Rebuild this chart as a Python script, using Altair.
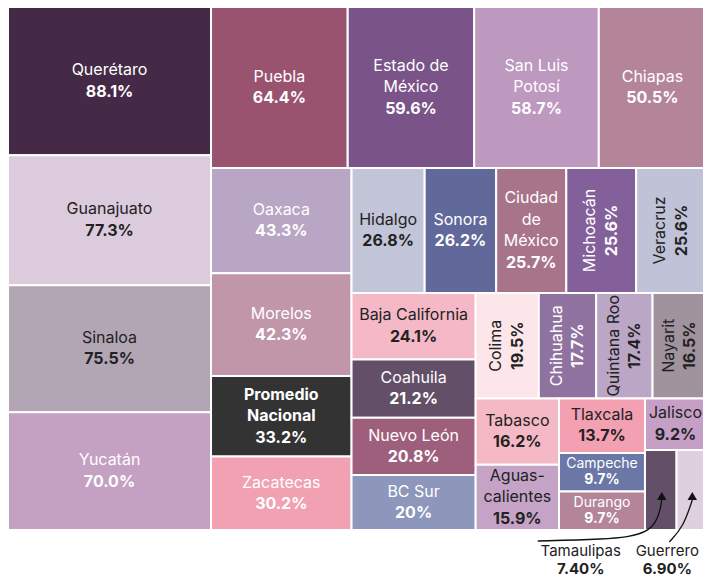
import altair as alt
import pandas as pd

# ---------------- data ----------------
states = ["Querétaro", "Guanajuato", "Sinaloa", "Yucatán", "Puebla", "Estado de México",
          "San Luis Potosí", "Chiapas", "Oaxaca", "Morelos", "Promedio Nacional", "Zacatecas",
          "Hidalgo", "Sonora", "Ciudad de México", "Michoacán", "Veracruz", "Baja California",
          "Coahuila", "Nuevo León", "BC Sur", "Colima", "Chihuahua", "Quintana Roo", "Nayarit",
          "Tabasco", "Aguascalientes", "Tlaxcala", "Campeche", "Durango", "Jalisco",
          "Tamaulipas", "Guerrero"]
values = [88.1, 77.3, 75.5, 70.0, 64.4, 59.6, 58.7, 50.5, 43.3, 42.3, 33.2, 30.2,
          26.8, 26.2, 25.7, 25.6, 25.6, 24.1, 21.2, 20.8, 20.0, 19.5, 17.7, 17.4, 16.5,
          16.2, 15.9, 13.7, 9.7, 9.7, 9.2, 7.4, 6.9]
value_labels = ["88.1%", "77.3%", "75.5%", "70.0%", "64.4%", "59.6%", "58.7%", "50.5%",
                "43.3%", "42.3%", "33.2%", "30.2%", "26.8%", "26.2%", "25.7%", "25.6%",
                "25.6%", "24.1%", "21.2%", "20.8%", "20%", "19.5%", "17.7%", "17.4%",
                "16.5%", "16.2%", "15.9%", "13.7%", "9.7%", "9.7%", "9.2%", "7.40%", "6.90%"]
name_lines = [["Querétaro"], ["Guanajuato"], ["Sinaloa"], ["Yucatán"], ["Puebla"],
              ["Estado de", "México"], ["San Luis", "Potosí"], ["Chiapas"], ["Oaxaca"],
              ["Morelos"], ["Promedio", "Nacional"], ["Zacatecas"], ["Hidalgo"], ["Sonora"],
              ["Ciudad", "de", "México"], ["Michoacán"], ["Veracruz"], ["Baja California"],
              ["Coahuila"], ["Nuevo León"], ["BC Sur"], ["Colima"], ["Chihuahua"],
              ["Quintana Roo"], ["Nayarit"], ["Tabasco"], ["Aguas-", "calientes"],
              ["Tlaxcala"], ["Campeche"], ["Durango"], ["Jalisco"], ["Tamaulipas"], ["Guerrero"]]
fills = ["#452a47", "#dccbdc", "#b3a6b4", "#c4a0c2", "#99536e", "#7a5488",
         "#bd98bf", "#b48599", "#b9a6c4", "#c096a8", "#333333", "#f2a1b3",
         "#c2c4d8", "#61699a", "#a8748a", "#84609a", "#c0c3d8", "#f5b8c6",
         "#634f68", "#9e5f7c", "#8c97bb", "#fde6ea", "#8f72a0", "#bba6c6", "#a0939e",
         "#f5b8c5", "#c4a3c7", "#f2a0b2", "#6b77a6", "#b48599", "#c59fc5",
         "#634f68", "#dfd0e0"]
dark_text = ["Guanajuato", "Sinaloa", "Hidalgo", "Veracruz", "Baja California", "Colima",
             "Quintana Roo", "Nayarit", "Tabasco", "Aguascalientes", "Tlaxcala", "Jalisco"]
rotated = ["Michoacán", "Veracruz", "Colima", "Chihuahua", "Quintana Roo", "Nayarit"]
bold_names = ["Promedio Nacional"]
outside = ["Tamaulipas", "Guerrero"]

# ---------------- squarified treemap layout (d3 squarify, golden ratio) ----------------
W, H = 695, 571           # canvas size (chart units = pixels)
TREE = (0.0, -1.0, 698.0, 522.0)


def squarify(vals, x0, y0, x1, y1, ratio=(1 + 5 ** 0.5) / 2):
    rects = [None] * len(vals)
    n = len(vals)
    i0 = i1 = 0
    total = sum(vals)
    while i0 < n:
        dx, dy = x1 - x0, y1 - y0
        s = vals[i1]
        i1 += 1
        mn = mx = s
        alpha = max(dy / dx, dx / dy) / (total * ratio)
        beta = s * s * alpha
        min_r = max(mx / beta, beta / mn)
        while i1 < n:
            v = vals[i1]
            s2 = s + v
            mn2, mx2 = min(mn, v), max(mx, v)
            beta = s2 * s2 * alpha
            r = max(mx2 / beta, beta / mn2)
            if r > min_r:
                break
            s, mn, mx, min_r = s2, mn2, mx2, r
            i1 += 1
        row = range(i0, i1)
        if dx < dy:
            yb = y0 + dy * s / total
            xx = x0
            for i in row:
                w = dx * vals[i] / s
                rects[i] = (xx, y0, xx + w, yb)
                xx += w
            y0 = yb
        else:
            xb = x0 + dx * s / total
            yy = y0
            for i in row:
                h = dy * vals[i] / s
                rects[i] = (x0, yy, xb, yy + h)
                yy += h
            x0 = xb
        total -= s
        i0 = i1
    return rects


rects = squarify(values, *TREE)

tiles = pd.DataFrame({
    "state": states, "value": values,
    "x": [r[0] for r in rects], "x2": [r[2] for r in rects],
    "y": [r[1] for r in rects], "y2": [r[3] for r in rects],
    "fill": fills,
})

rows = []
for i, st in enumerate(states):
    if st in outside:
        continue
    x0, y0, x1, y1 = rects[i]
    cx, cy = (x0 + x1) / 2, (y0 + y1) / 2
    lines = name_lines[i] + [value_labels[i]]
    n = len(lines)
    small = (y1 - y0) <= 45
    line_h = 16 if small else 21.5
    col = "#222222" if st in dark_text else "#ffffff"
    for k, t in enumerate(lines):
        off = (k - (n - 1) / 2) * line_h
        is_val = k == n - 1
        rot = st in rotated
        rows.append({
            "text": t, "color": col,
            "tx": cx + off if rot else cx,
            "ty": cy if rot else cy + off,
            "angle": 270 if rot else 0,
            "size": 14 if small else 16,
            "bold": is_val or st in bold_names,
        })
labels = pd.DataFrame(rows)

# outside annotations (Tamaulipas, Guerrero)
ann_rows, arrow_rows, tip_rows = [], [], []
label_shift = {"Tamaulipas": -80, "Guerrero": -24}
for st in outside:
    i = states.index(st)
    x0, y0, x1, y1 = rects[i]
    cx = (x0 + x1) / 2
    lx = cx + label_shift[st]
    ann_rows.append({"text": st, "tx": lx, "ty": 543, "bold": False})
    ann_rows.append({"text": value_labels[i], "tx": lx, "ty": 561, "bold": True})
    tip_y = y1 - 38
    if st == "Tamaulipas":
        pts = [(lx - 43, 533), (lx + 20, 531.5), (cx - 5, 527), (cx + 1, tip_y + 8)]
    else:
        pts = [(lx + 2, 534), (cx - 8, 519), (cx + 1, tip_y + 8)]
    for k, (px, py) in enumerate(pts):
        arrow_rows.append({"st": st, "ord": k, "ax": px, "ay": py})
    tip_rows.append({"st": st, "ax": cx + 1, "ay": tip_y + 4})
ann = pd.DataFrame(ann_rows)
arrows = pd.DataFrame(arrow_rows)
tips = pd.DataFrame(tip_rows)

# ---------------- chart ----------------
FONT = "Inter"
xs = alt.Scale(domain=[0, W], nice=False, zero=False)
ys = alt.Scale(domain=[0, H], nice=False, zero=False, reverse=True)

rect_layer = alt.Chart(tiles).mark_rect(stroke="white", strokeWidth=2).encode(
    x=alt.X("x:Q", scale=xs, axis=None), x2="x2:Q",
    y=alt.Y("y:Q", scale=ys, axis=None), y2="y2:Q",
    fill=alt.Fill("fill:N", scale=None),
)


def text_layer(df, bold, color=None):
    base = alt.Chart(df).transform_filter(
        alt.datum.bold if bold else ~alt.datum.bold
    ).mark_text(font=FONT, fontSize=15, fontWeight="bold" if bold else "normal",
                align="center", baseline="middle")
    enc = dict(x=alt.X("tx:Q", scale=xs, axis=None), y=alt.Y("ty:Q", scale=ys, axis=None),
               text="text:N")
    if color is None:
        enc["color"] = alt.Color("color:N", scale=None)
        enc["angle"] = alt.Angle("angle:Q", scale=None)
        enc["size"] = alt.Size("size:Q", scale=None)
    else:
        enc["color"] = alt.value(color)
    return base.encode(**enc)


arrow_layer = alt.Chart(arrows).mark_line(color="#111111", strokeWidth=1.3,
                                          interpolate="basis").encode(
    x=alt.X("ax:Q", scale=xs, axis=None), y=alt.Y("ay:Q", scale=ys, axis=None),
    detail="st:N", order="ord:Q",
)
tip_layer = alt.Chart(tips).mark_point(shape="triangle-up", filled=True, size=90,
                                       color="#111111", opacity=1).encode(
    x=alt.X("ax:Q", scale=xs, axis=None), y=alt.Y("ay:Q", scale=ys, axis=None),
)

chart = alt.layer(
    rect_layer,
    text_layer(labels, False), text_layer(labels, True),
    arrow_layer, tip_layer,
    text_layer(ann, False, "#222222"), text_layer(ann, True, "#222222"),
).properties(
    width=W, height=H, autosize=alt.AutoSizeParams(type="none"), padding=0,
).configure_view(stroke=None)

chart.save("out.html", embed_options={"renderer": "svg", "actions": False})
